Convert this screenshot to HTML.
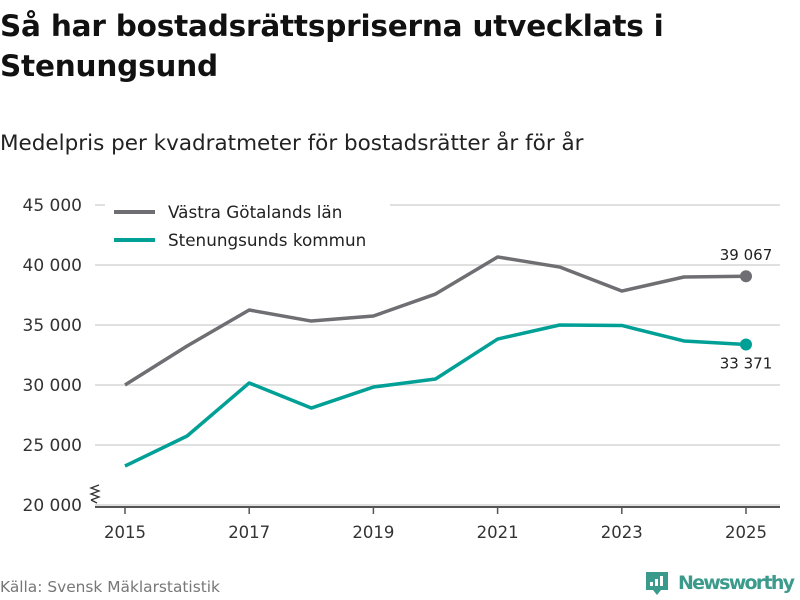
<!DOCTYPE html>
<html><head><meta charset="utf-8"><style>
body{margin:0;width:800px;height:600px;background:#fff;font-family:"DejaVu Sans","Liberation Sans",sans-serif;overflow:hidden;position:relative}
#t{position:absolute;left:0;top:6px;font-size:29.5px;font-weight:bold;line-height:40px;color:#111;margin:0;letter-spacing:-0.2px}
#st{position:absolute;left:0;top:131px;font-size:21.5px;color:#222}
#src{position:absolute;left:0;top:578px;font-size:15.4px;color:#777}
</style></head><body>
<h1 id="t">Så har bostadsrättspriserna utvecklats i<br>Stenungsund</h1>
<div id="st">Medelpris per kvadratmeter för bostadsrätter år för år</div>
<div id="src">Källa: Svensk Mäklarstatistik</div>
<svg id="c" width="800" height="600" style="position:absolute;left:0;top:0"></svg>
<script>
const years=[2015,2016,2017,2018,2019,2020,2021,2022,2023,2024,2025];
const vgValues=[30000,33250,36250,35330,35750,37580,40670,39830,37830,39000,39067];
const stValues=[23250,25750,30170,28080,29830,30500,33830,35000,34960,33670,33371];
const yTicks=[20000,25000,30000,35000,40000,45000];
const xTicks=[2015,2017,2019,2021,2023,2025];
const NS="http://www.w3.org/2000/svg";
const FF='DejaVu Sans, Liberation Sans, sans-serif';
const svg=document.getElementById('c');
const X=y=>125+(y-2015)*62.1;
const Y=v=>505-(v-20000)*0.012;
const fmt=v=>String(v).replace(/\B(?=(\d{3})+(?!\d))/g,' ');
function mk(t,a){const e=document.createElementNS(NS,t);for(const k in a)e.setAttribute(k,a[k]);svg.appendChild(e);return e;}
yTicks.forEach(v=>{
 const g=mk('line',{x1:95,x2:780,y1:Y(v),y2:Y(v),stroke:'#e0e0e0','stroke-width':2});
 
 
 const t=mk('text',{x:82,y:Y(v)+6,'text-anchor':'end','font-size':17,fill:'#333','font-family':FF});
 t.textContent=fmt(v);
 
 
});
const ax=mk('line',{x1:95,x2:780,y1:507,y2:507,stroke:'#555','stroke-width':2});


const br=mk('path',{d:'M91 500 l8 -3 l-8 -3 l8 -3 l-8 -3 l8 -3 M91 500 l6 3',fill:'none',stroke:'#333','stroke-width':1.3});


xTicks.forEach(y=>{
 const l=mk('line',{x1:X(y),x2:X(y),y1:507,y2:514,stroke:'#555','stroke-width':1.5});
 
 
 const t=mk('text',{x:X(y),y:538,'text-anchor':'middle','font-size':16.5,fill:'#333','font-family':FF});
 t.textContent=y;
 
 
});
function series(vals,col,name){
 const p=mk('polyline',{points:vals.map((v,i)=>X(years[i])+','+Y(v)).join(' '),fill:'none',stroke:col,'stroke-width':3.5,'stroke-linejoin':'round'});
 
 
 const n=vals.length-1;
 const c=mk('circle',{cx:X(years[n]),cy:Y(vals[n]),r:6,fill:col});
 
 
}
series(vgValues,'#6f6e73','vastra-gotaland');
series(stValues,'#00a096','stenungsund');
const n=years.length-1;
const l1=mk('text',{x:X(years[n]),y:Y(vgValues[n])-16,'text-anchor':'middle','font-size':15,fill:'#222','font-family':FF});
l1.textContent=fmt(vgValues[n]);


const l2=mk('text',{x:X(years[n]),y:Y(stValues[n])+24,'text-anchor':'middle','font-size':15,fill:'#222','font-family':FF});
l2.textContent=fmt(stValues[n]);


const bg=mk('rect',{x:105,y:196,width:285,height:62,fill:'#fff'});


[['Västra Götalands län','#6f6e73',212],['Stenungsunds kommun','#00a096',240]].forEach(([lab,col,y])=>{
 const ln=mk('line',{x1:114,x2:155,y1:y,y2:y,stroke:col,'stroke-width':4});
 
 
 const t=mk('text',{x:168,y:y+6,'font-size':16.8,fill:'#222','font-family':FF});
 t.textContent=lab;
 
 
});
const logo=mk('path',{d:'M646 572 h22 v18 h-7 l-4 5 l-4 -5 h-7 z',fill:'#3a9a8c'});


[[650,582,3,4],[655,579,3,7],[660,576,3,10]].forEach(([x,y,w,h])=>{const r=mk('rect',{x,y,width:w,height:h,fill:'#fff'});});
const lt=mk('text',{x:678,y:589,'font-size':19,'font-weight':'bold',fill:'#3a9a8c','font-family':FF,textLength:117});
lt.textContent='Newsworthy';


</script>
</body></html>
